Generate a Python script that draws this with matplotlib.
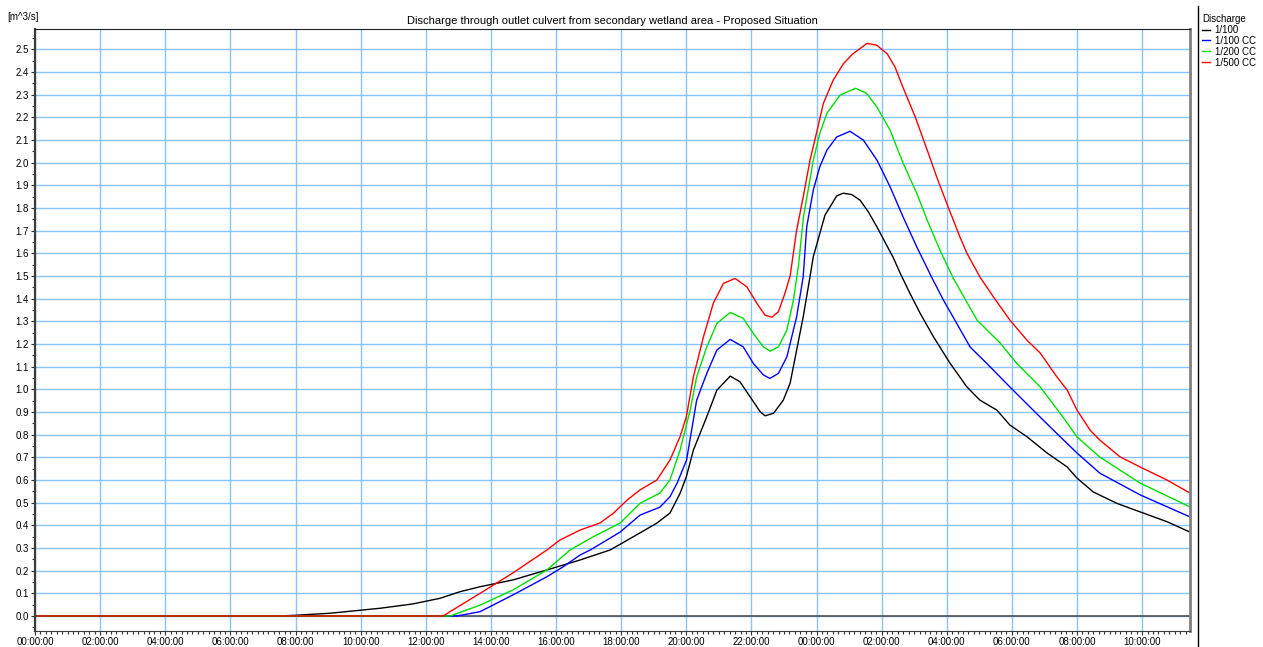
import numpy as np
import matplotlib.pyplot as plt
from matplotlib.ticker import MultipleLocator, FuncFormatter
from matplotlib.lines import Line2D

plt.rcParams['font.family'] = ['Liberation Sans', 'DejaVu Sans']

# hours since 00:00:00 on day 1, discharge in m^3/s
t_100 = [0, 7.5, 8.0, 9.06, 10.6, 11.6, 12.44, 13.05, 13.67, 14.68, 15.72, 16.74,
         17.66, 18.38, 19.09, 19.5, 19.81, 20.0, 20.22, 20.63, 20.94, 21.35, 21.65,
         21.96, 22.27, 22.42, 22.68, 22.98, 23.19, 23.39, 23.59, 23.8, 23.9, 24.26,
         24.62, 24.82, 25.08, 25.34, 25.59, 25.86, 26.1, 26.35, 26.57, 26.87, 27.18,
         27.59, 28.1, 28.62, 29.02, 29.54, 29.94, 30.46, 31.08, 31.7, 32.0, 32.5,
         33.22, 33.94, 34.76, 35.47]
q_100 = [0, 0, 0.003, 0.012, 0.034, 0.053, 0.078, 0.107, 0.129, 0.159, 0.203, 0.247,
         0.291, 0.35, 0.409, 0.454, 0.541, 0.613, 0.732, 0.879, 0.996, 1.058, 1.033,
         0.967, 0.901, 0.883, 0.894, 0.952, 1.027, 1.173, 1.318, 1.496, 1.584, 1.768,
         1.853, 1.865, 1.859, 1.834, 1.783, 1.715, 1.65, 1.583, 1.512, 1.423, 1.336,
         1.232, 1.115, 1.01, 0.952, 0.908, 0.842, 0.791, 0.719, 0.657, 0.608, 0.547,
         0.497, 0.459, 0.416, 0.37]

t_100cc = [0, 12.96, 13.67, 14.68, 15.72, 16.2, 16.74, 17.05, 17.97, 18.58, 19.19,
           19.5, 19.72, 20.01, 20.32, 20.63, 20.94, 21.35, 21.75, 22.06, 22.37, 22.57,
           22.83, 23.09, 23.39, 23.59, 23.7, 23.9, 24.1, 24.32, 24.62, 25.03, 25.44,
           25.86, 26.26, 26.66, 27.08, 27.55, 27.9, 28.72, 29.23, 29.94, 30.87, 31.38,
           32.0, 32.7, 33.94, 35.47]
q_100cc = [0, 0, 0.019, 0.093, 0.173, 0.215, 0.269, 0.291, 0.37, 0.445, 0.48,
           0.526, 0.586, 0.688, 0.952, 1.07, 1.173, 1.22, 1.187, 1.114, 1.063, 1.048,
           1.07, 1.143, 1.32, 1.495, 1.717, 1.878, 1.981, 2.055, 2.113, 2.138, 2.099,
           2.01, 1.893, 1.76, 1.628, 1.49, 1.393, 1.186, 1.114, 1.01, 0.877, 0.805,
           0.719, 0.63, 0.534, 0.437]

t_200cc = [0, 12.75, 13.67, 14.68, 15.72, 16.43, 17.15, 17.97, 18.58, 19.19, 19.5,
           19.81, 20.12, 20.32, 20.63, 20.94, 21.35, 21.75, 22.06, 22.37, 22.57, 22.83,
           23.09, 23.29, 23.45, 23.6, 23.9, 24.1, 24.32, 24.72, 25.2, 25.54, 25.86,
           26.26, 26.66, 27.08, 27.4, 27.79, 28.2, 28.93, 29.64, 30.15, 30.87, 31.57,
           32.0, 32.7, 33.94, 35.47]
q_200cc = [0, 0, 0.048, 0.115, 0.203, 0.291, 0.35, 0.41, 0.497, 0.542, 0.6,
           0.732, 0.908, 1.055, 1.187, 1.29, 1.339, 1.313, 1.246, 1.187, 1.168, 1.187,
           1.261, 1.393, 1.55, 1.761, 2.01, 2.128, 2.218, 2.297, 2.328, 2.305, 2.244,
           2.143, 1.997, 1.864, 1.746, 1.614, 1.49, 1.305, 1.204, 1.114, 1.01, 0.877,
           0.79, 0.701, 0.586, 0.481]

t_500cc = [0, 12.53, 13.67, 14.68, 15.72, 16.12, 16.74, 17.35, 17.76, 18.18, 18.58,
           19.1, 19.5, 19.81, 20.0, 20.22, 20.53, 20.83, 21.14, 21.5, 21.86, 22.17,
           22.42, 22.63, 22.83, 23.03, 23.19, 23.39, 23.59, 23.8, 24.02, 24.21, 24.51,
           24.83, 25.12, 25.55, 25.85, 26.17, 26.41, 26.66, 27.03, 27.4, 27.69, 28.0,
           28.41, 28.62, 29.02, 29.43, 29.94, 30.46, 30.87, 31.38, 31.7, 32.0, 32.4,
           32.7, 33.32, 33.94, 34.76, 35.47]
q_500cc = [0, 0, 0.1, 0.19, 0.291, 0.335, 0.379, 0.41, 0.453, 0.511, 0.556,
           0.6, 0.688, 0.791, 0.877, 1.055, 1.232, 1.379, 1.467, 1.489, 1.452, 1.379,
           1.327, 1.318, 1.342, 1.423, 1.5, 1.702, 1.847, 2.01, 2.143, 2.261, 2.363,
           2.437, 2.48, 2.526, 2.518, 2.48, 2.422, 2.33, 2.202, 2.055, 1.937, 1.82,
           1.67, 1.6, 1.495, 1.408, 1.305, 1.217, 1.16, 1.055, 0.996, 0.908, 0.82,
           0.776, 0.702, 0.657, 0.6, 0.542]

names = ['1/100', '1/100 CC', '1/200 CC', '1/500 CC']
colors = ['#000000', '#0000ff', '#00e000', '#ff0000']

fig = plt.figure(figsize=(12.63, 6.47), dpi=100)
ax = fig.add_axes([35 / 1263, 1 - 630.7 / 647, (1190 - 35) / 1263, (630.7 - 29.3) / 647])

for t, q, name, c in zip([t_100, t_100cc, t_200cc, t_500cc],
                         [q_100, q_100cc, q_200cc, q_500cc], names, colors):
    ax.plot(t, q, color=c, lw=1.0, label=name)

ax.set_xlim(0, 35.47)
ax.set_ylim(-0.065, 2.588)

ax.xaxis.set_major_locator(MultipleLocator(2))
ax.xaxis.set_minor_locator(MultipleLocator(1 / 6))
ax.xaxis.set_major_formatter(FuncFormatter(lambda v, p: '%02d:00:00' % (int(round(v)) % 24)))
ax.yaxis.set_major_locator(MultipleLocator(0.1))
ax.yaxis.set_minor_locator(MultipleLocator(0.05))
ax.yaxis.set_major_formatter(FuncFormatter(lambda v, p: '%.1f' % v))

ax.tick_params(which='both', direction='out', labelsize=7, color='#303030')
ax.tick_params(which='major', length=3, width=0.8, pad=1.5)
ax.tick_params(which='minor', length=2, width=0.8)
ax.grid(True, which='major', color='#88c2ff', lw=1.0)
ax.set_axisbelow(True)

ax.spines['left'].set_linewidth(1.6)
ax.spines['left'].set_color('#3c3c3c')
ax.spines['bottom'].set_color('#3c3c3c')
ax.spines['top'].set_color('#202020')
ax.spines['right'].set_linewidth(2)
ax.spines['right'].set_color('#808080')
ax.axhline(0, color='#505050', lw=1.2, zorder=1)

ax.set_title('Discharge through outlet culvert from secondary wetland area - Proposed Situation',
             fontsize=8, pad=4)
fig.text(7 / 1263, 1 - 17 / 647, '[m^3/s]', fontsize=7, va='center')

leg = fig.legend(loc='upper left', bbox_to_anchor=(1200 / 1263, 1 - 12 / 647),
                 title='Discharge', fontsize=7, title_fontsize=7, frameon=False,
                 handlelength=0.8, handletextpad=0.5, labelspacing=0.1,
                 borderpad=0.2, borderaxespad=0)
leg._legend_box.align = 'left'

fig.add_artist(Line2D([1198 / 1263, 1198 / 1263], [0, 1 - 6 / 647], color='black', lw=1))

fig.savefig('out.png', dpi=100)
